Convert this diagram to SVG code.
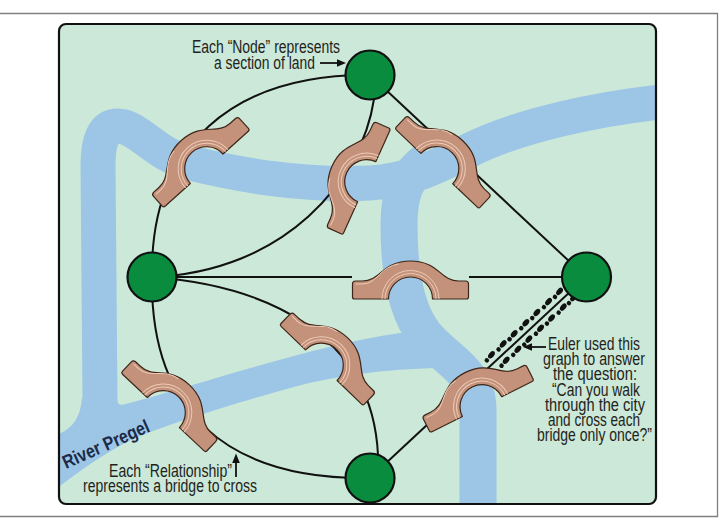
<svg xmlns="http://www.w3.org/2000/svg" xmlns:xlink="http://www.w3.org/1999/xlink" width="728" height="525" viewBox="0 0 728 525">
<style>
.edge{fill:none;stroke:#111;stroke-width:2}
.node{fill:#0a8c3f;stroke:#111;stroke-width:2.2}
.river{fill:none;stroke:#9dc6e6;stroke-linecap:butt;stroke-linejoin:round}
.rfill{fill:#9dc6e6}
.lbl{font-family:'Liberation Sans',Arial,sans-serif;font-size:17.5px;fill:#231f20}
.br{fill:#c4927a;stroke:#3d2619;stroke-width:1.2;stroke-linejoin:round}
.hl{fill:none;stroke:#eccab6;stroke-width:1}
.arr{fill:none;stroke:#111;stroke-width:1.8}
</style>
<defs>
<clipPath id="panelClip"><rect x="60" y="25" width="595" height="478" rx="7"/></clipPath>
<g id="bridge">
<path class="br" d="M -58,-14 Q -58,-17 -55,-17 L -48,-17 C -30,-17 -28,-37 0,-37 C 28,-37 30,-17 48,-17 L 55,-17 Q 58,-17 58,-14 L 58,-1 Q 58,1 56,1 L 22,1 A 22 22 0 0 0 -22,1 L -56,1 Q -58,1 -58,-1 Z"/>
<path class="hl" d="M -25.5,1 A 25.5 25.5 0 0 1 25.5,1"/>
<path class="hl" d="M -28.5,1 A 28.5 28.5 0 0 1 28.5,1"/>
<path class="hl" d="M -55,-14 L -48,-14 C -33,-14 -30,-32 -12,-34"/>
</g>
<g id="fp" fill="#111"><ellipse cx="2.6" cy="0" rx="4.2" ry="2.6"/><ellipse cx="-4.6" cy="0" rx="2.2" ry="2.3"/></g>
</defs>

<rect x="0" y="0" width="728" height="525" fill="#ffffff"/>
<path d="M0,13.5 H717.5 V516.5 H0" fill="none" stroke="#808080" stroke-width="1.3"/>

<rect x="59" y="24" width="597" height="480" rx="7" fill="#cbe8d8"/>

<g id="rivers" clip-path="url(#panelClip)">
<path class="river" stroke-width="35" d="M 670,101 C 600,108 520,125 470,150 C 440,165 410,181 370,183 C 300,186 240,175 190,163 C 155,155 138,126 118,126 C 104,126 98,140 98,165 L 100,402"/>
<path class="river" stroke-width="37" d="M 430,158 C 405,175 399,195 399,225 C 399,270 405,310 425,335 C 445,360 478,370 478,410 L 478,515"/>
<path class="rfill" d="M 40,438 C 66,436 80,424 82,398 L 117,398 C 117,404 119,406 126,404 C 160,395 195,384 240,371 C 300,354 350,340 400,333 L 440,333 L 445,368 C 400,368 340,374 290,388 C 240,402 180,420 140,436 C 110,449 80,470 50,494 L 40,494 Z"/>
</g>

<rect x="59" y="24" width="597" height="480" rx="7" fill="none" stroke="#111" stroke-width="2.2"/>

<g id="connectors">
<path class="edge" d="M 370,75 C 232,74 150,146 152,277"/>
<path class="edge" d="M 374,99 C 362,180 285,272 152,277"/>
<path class="edge" d="M 370,75 L 586,277"/>
<path class="edge" d="M 152,277 L 352,277"/>
<path class="edge" d="M 469,277 L 586,277"/>
<path class="edge" d="M 152,277 C 150,410 225,480 370,478"/>
<path class="edge" d="M 152,277 C 260,285 372,330 378,455"/>
<path class="edge" d="M 370,478 L 586,277"/>
</g>

<g id="bridges">
<use xlink:href="#bridge" href="#bridge" transform="translate(206,168) rotate(-42)"/>
<use xlink:href="#bridge" href="#bridge" transform="translate(365.8,181.3) rotate(-65.7)"/>
<use xlink:href="#bridge" href="#bridge" transform="translate(437.5,167.8) rotate(43.6)"/>
<use xlink:href="#bridge" href="#bridge" transform="translate(410.5,298) rotate(0)"/>
<use xlink:href="#bridge" href="#bridge" transform="translate(164,411.8) rotate(43.2)"/>
<use xlink:href="#bridge" href="#bridge" transform="translate(322,364.5) rotate(44)"/>
<use xlink:href="#bridge" href="#bridge" transform="translate(481.6,405.7) rotate(-26.6)"/>
</g>

<g id="footprints">
<use href="#fp" xlink:href="#fp" transform="translate(489.8,356.8) rotate(-50)"/>
<use href="#fp" xlink:href="#fp" transform="translate(501.5,345.9) rotate(-50)"/>
<use href="#fp" xlink:href="#fp" transform="translate(512.5,335.7) rotate(-50)"/>
<use href="#fp" xlink:href="#fp" transform="translate(524.2,324.7) rotate(-50)"/>
<use href="#fp" xlink:href="#fp" transform="translate(535.2,314.5) rotate(-50)"/>
<use href="#fp" xlink:href="#fp" transform="translate(546.9,303.6) rotate(-50)"/>
<use href="#fp" xlink:href="#fp" transform="translate(557.9,293.4) rotate(-50)"/>
<use href="#fp" xlink:href="#fp" transform="translate(504.5,362.2) rotate(-50)"/>
<use href="#fp" xlink:href="#fp" transform="translate(516.2,351.3) rotate(-50)"/>
<use href="#fp" xlink:href="#fp" transform="translate(527.2,341.1) rotate(-50)"/>
<use href="#fp" xlink:href="#fp" transform="translate(538.9,330.2) rotate(-50)"/>
<use href="#fp" xlink:href="#fp" transform="translate(549.9,320) rotate(-50)"/>
<use href="#fp" xlink:href="#fp" transform="translate(561.6,309.1) rotate(-50)"/>
<use href="#fp" xlink:href="#fp" transform="translate(571.9,299.6) rotate(-50)"/>
</g>

<g id="node-top"><circle class="node" cx="370" cy="75" r="24.5"/></g>
<g id="node-left"><circle class="node" cx="152" cy="277" r="24.5"/></g>
<g id="node-right"><circle class="node" cx="586.5" cy="277" r="24.5"/></g>
<g id="node-bottom"><circle class="node" cx="370" cy="478" r="24.5"/></g>

<g id="label-node">
<text class="lbl" x="192" y="53" textLength="148" lengthAdjust="spacingAndGlyphs">Each “Node” represents</text>
<text class="lbl" x="214" y="68.5" textLength="101" lengthAdjust="spacingAndGlyphs">a section of land</text>
<line class="arr" x1="320" y1="63" x2="338" y2="63"/>
<polygon points="346,63 337,59.2 337,66.8" fill="#111"/>
</g>

<g id="label-relationship">
<text class="lbl" x="109" y="477" textLength="123" lengthAdjust="spacingAndGlyphs">Each “Relationship”</text>
<text class="lbl" x="83" y="492" textLength="174" lengthAdjust="spacingAndGlyphs">represents a bridge to cross</text>
<line class="arr" x1="236" y1="477" x2="236" y2="462"/>
<polygon points="236,453.5 232.2,463 239.8,463" fill="#111"/>
</g>

<g id="label-river">
<text x="66" y="469" transform="rotate(-24 66 469)" textLength="93" lengthAdjust="spacingAndGlyphs" style="font-family:'Liberation Sans',Arial,sans-serif;font-size:19px;font-weight:bold;fill:#1b2a48">River Pregel</text>
</g>

<g id="label-euler">
<text class="lbl" x="548" y="350" textLength="92" lengthAdjust="spacingAndGlyphs">Euler used this</text>
<text class="lbl" x="543" y="365" textLength="102" lengthAdjust="spacingAndGlyphs">graph to answer</text>
<text class="lbl" x="553" y="380" textLength="84" lengthAdjust="spacingAndGlyphs">the question:</text>
<text class="lbl" x="552" y="395.5" textLength="88" lengthAdjust="spacingAndGlyphs">“Can you walk</text>
<text class="lbl" x="545" y="411" textLength="100" lengthAdjust="spacingAndGlyphs">through the city</text>
<text class="lbl" x="548" y="426" textLength="92" lengthAdjust="spacingAndGlyphs">and cross each</text>
<text class="lbl" x="537" y="441" textLength="115" lengthAdjust="spacingAndGlyphs">bridge only once?”</text>
<line class="arr" x1="546" y1="347" x2="531" y2="347"/>
<polygon points="523,347 532,343.2 532,350.8" fill="#111"/>
</g>
</svg>
